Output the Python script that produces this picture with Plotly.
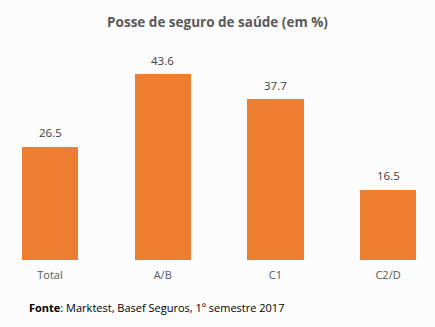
import plotly.graph_objects as go

categories = ["Total", "A/B", "C1", "C2/D"]
values = [26.5, 43.6, 37.7, 16.5]
labels = ["26.5", "43.6", "37.7", "16.5"]

xpos = list(range(len(categories)))
font_family = "Open Sans"

fig = go.Figure()
fig.add_trace(go.Bar(
    x=xpos, y=values, width=0.5,
    marker=dict(color="#ED7D31", line=dict(width=0)),
    hoverinfo="skip",
))

for xv, yv, lab in zip(xpos, values, labels):
    fig.add_annotation(x=xv, y=yv, text=lab, showarrow=False,
                       yanchor="middle", yshift=14,
                       font=dict(family=font_family, size=11.5, color="#404040"))

fig.update_layout(
    width=435, height=327,
    margin=dict(l=0, r=0, t=60, b=67),
    paper_bgcolor="#FCFCFC", plot_bgcolor="#FCFCFC",
    showlegend=False,
    bargap=0,
    title=dict(text="<b>Posse de seguro de saúde (em %)</b>", x=0.5, xanchor="center",
               y=1 - 22 / 327, yanchor="middle",
               font=dict(family=font_family, size=13.5, color="#595959")),
    xaxis=dict(range=[-0.444, 3.417], tickvals=xpos, ticktext=categories,
               showgrid=False, zeroline=False, showline=False, ticks="",
               ticklabelstandoff=7,
               tickfont=dict(family=font_family, size=11, color="#595959")),
    yaxis=dict(range=[0, 46.9], visible=False, showgrid=False, zeroline=False),
    font=dict(family=font_family),
)

fig.add_annotation(
    text="<b>Fonte</b>: Marktest, Basef Seguros, 1º semestre 2017",
    xref="paper", yref="paper", x=27 / 435, xanchor="left",
    y=-(307 - 260) / 200, yanchor="middle", showarrow=False,
    font=dict(family=font_family, size=11, color="#000000"),
)

fig.write_html("out.html")
